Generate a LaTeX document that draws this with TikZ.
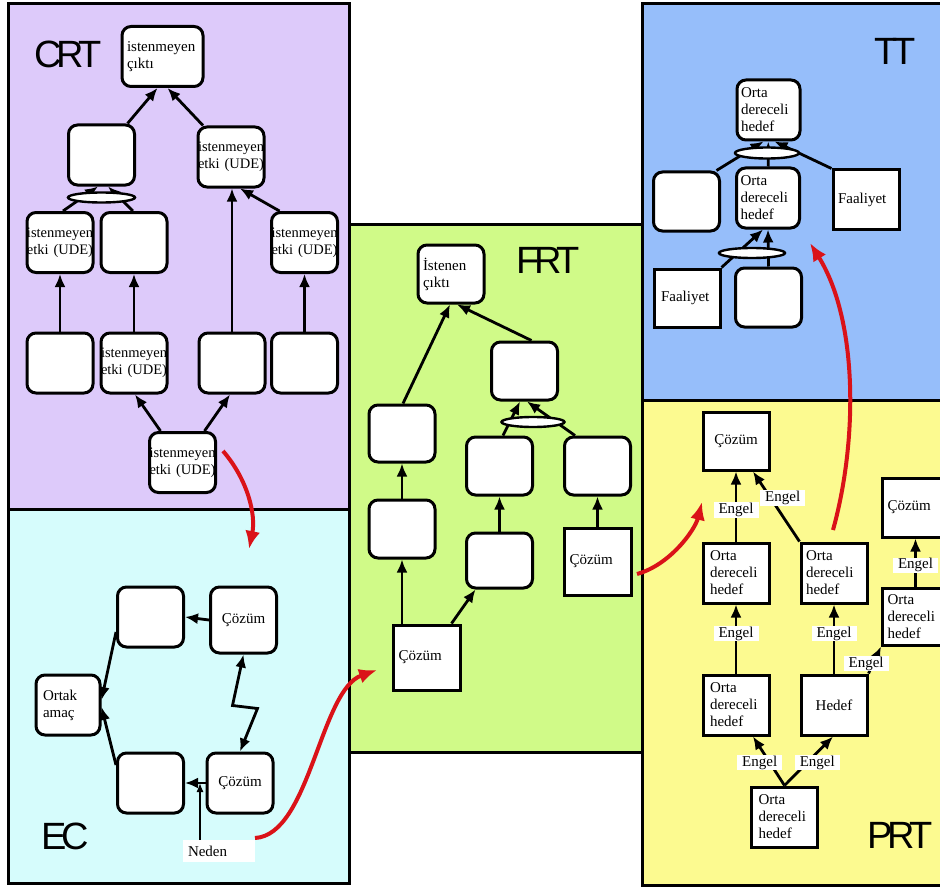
\documentclass[tikz,border=0pt]{standalone}
\usepackage{fontspec}
\setmainfont{Liberation Serif}
\newfontfamily\titlefont{Liberation Sans}[LetterSpace=-13]
\usetikzlibrary{shapes.geometric,arrows.meta}
\definecolor{crtbg}{RGB}{221,202,250}
\definecolor{ecbg}{RGB}{214,252,252}
\definecolor{frtbg}{RGB}{208,250,136}
\definecolor{ttbg}{RGB}{150,190,250}
\definecolor{prtbg}{RGB}{252,250,144}
\definecolor{hopred}{RGB}{218,18,24}
\newcommand\cellfont{\fontsize{15}{17}\selectfont}
\newcommand\udefont{\fontsize{14.5}{17}\selectfont}
\tikzset{
  cell/.style={draw,fill=white,line width=3pt,minimum width=66pt,minimum height=60pt,
    inner xsep=5pt,inner ysep=0pt,text width=56pt,align=left,font=\cellfont},
  rbox/.style={cell,rounded corners=9pt},
  sbox/.style={cell},
  udebox/.style={rbox,inner xsep=0pt,text width=66pt,font=\udefont},
  andbar/.style={draw,fill=white,ellipse,line width=2.4pt,inner sep=0pt,minimum width=64pt,minimum height=10pt},
  link/.style={-{Latex[length=13pt,width=11pt]},line width=2.8pt},
  engel/.style={fill=white,inner xsep=5pt,inner ysep=1pt,font=\cellfont},
  hop/.style={-{Latex[length=18pt,width=15pt]},hopred,line width=4pt},
  paneltitle/.style={font=\titlefont\fontsize{38}{38}\selectfont},
  panel/.style={draw,line width=3pt}
}
\begin{document}
\begin{tikzpicture}[x=1pt,y=-1pt]
\useasboundingbox (0,0) rectangle (940,888);
\clip (0,0) rectangle (940,888);
\draw[panel,fill=crtbg] (8.5,3.5) rectangle (349.5,509.5);
\draw[panel,fill=ecbg] (8.5,509.5) rectangle (349.5,883);
\draw[panel,fill=frtbg] (349.5,224) rectangle (642.5,752);
\draw[panel,fill=ttbg] (642.5,3.5) rectangle (946,400.5);
\draw[panel,fill=prtbg] (642.5,400.5) rectangle (946,885);
\node[paneltitle] (tcrt) at (68,54) {CRT};
\node[paneltitle] (tec) at (65,836) {EC};
\node[paneltitle] (tfrt) at (548,260) {FRT};
\node[paneltitle] (ttt) at (895,51) {TT};
\node[paneltitle] (tprt) at (900,835) {PRT};
% CRT
\node[rbox,minimum width=81pt,text width=71pt] (c1) at (162.5,56.5) {istenmeyen\\çıktı};
\node[rbox] (c2) at (101.5,155) {};
\node[udebox] (c3) at (231,157) {istenmeyen\\etki~(UDE)};
\node[udebox] (c4) at (60,242.5) {istenmeyen\\etki~(UDE)};
\node[rbox] (c5) at (134,242.5) {};
\node[udebox] (c6) at (304.5,242.5) {istenmeyen\\etki~(UDE)};
\node[rbox] (c7) at (60,363) {};
\node[udebox] (c8) at (134,363) {istenmeyen\\etki~(UDE)};
\node[rbox] (c9) at (232,363) {};
\node[rbox] (c10) at (304.5,363) {};
\node[udebox] (c11) at (182.5,462.5) {istenmeyen\\etki~(UDE)};
\draw[link] ([xshift=26pt]c2.north)--([xshift=-5pt]c1.south);
\draw[link] ([xshift=-28pt]c3.north)--([xshift=5pt]c1.south);
\draw[link] ([xshift=3pt]c4.north)--([xshift=-3.5pt]c2.south);
\draw[link] ([xshift=-1pt]c5.north)--([xshift=6.5pt]c2.south);
\draw[link] (c9.north)--([xshift=1pt]c3.south);
\draw[link] ([xshift=-25pt]c6.north)--([xshift=9pt]c3.south);
\draw[link] (c7)--(c4);
\draw[link] (c8)--(c5);
\draw[link] (c10)--(c6);
\draw[link] ([xshift=-22pt]c11.north)--([xshift=1pt]c8.south);
\draw[link] ([xshift=22pt]c11.north)--([xshift=-2pt]c9.south);
\node[andbar,minimum width=67pt] (cand) at (101.5,197.5) {};
% EC
\node[rbox,minimum width=64pt,text width=50pt] (e1) at (68,705) {Ortak\\amaç};
\node[rbox] (e2) at (150.5,617) {};
\node[rbox,align=center,minimum height=66pt] (e3) at (243.5,620) {Çözüm};
\node[rbox] (e4) at (150.5,783) {};
\node[rbox,align=center] (e5) at (240,783) {Çözüm};
\node[fill=white,minimum width=72pt,minimum height=22pt,inner xsep=5pt,text width=62pt,align=left,font=\cellfont] (neden) at (219,851) {Neden};
\draw[link] (e3.west)--(e2.east);
\draw[link] (e5.west)--(e4.east);
\draw[link] ([yshift=-15pt]e2.west)--([yshift=5pt]e1.east);
\draw[link] ([yshift=18pt]e4.west)--([yshift=-2pt]e1.east);
\draw[{Latex[length=13pt,width=11pt]}-{Latex[length=13pt,width=11pt]},line width=2.8pt] (e3.south)--++(-11,51)--++(25,3)--(e5.north);
\coordinate (nd) at ([xshift=-19pt]neden.north);
\draw[-{Latex[length=9pt,width=7pt]},line width=1.3pt] (nd)--(nd |- e4.east);
% FRT
\node[rbox,minimum height=58pt] (f1) at (451,274) {İstenen\\çıktı};
\node[rbox,minimum height=58pt] (f2) at (524.5,371) {};
\node[rbox,minimum height=57pt] (f3) at (402,433.5) {};
\node[rbox,minimum height=58pt] (f4) at (402,529) {};
\node[sbox,minimum width=67pt,minimum height=65pt] (f5) at (426.5,657.5) {Çözüm};
\node[rbox,minimum height=58pt] (f6) at (499.5,466) {};
\node[rbox,minimum height=55pt] (f7) at (499.5,560.5) {};
\node[rbox,minimum height=58pt] (f8) at (597.5,466) {};
\node[sbox,minimum width=67pt,minimum height=67pt] (f9) at (597.5,561.5) {Çözüm};
\draw[link] ([xshift=1pt]f3.north)--([xshift=-1pt]f1.south);
\draw[link] ([xshift=7pt]f2.north)--([xshift=6pt]f1.south);
\draw[link] (f4)--(f3);
\draw[link] (f4.south |- f5.north)--(f4.south);
\draw[link] ([xshift=25pt]f5.north)--([xshift=-24pt]f7.south);
\draw[link] (f7)--(f6);
\draw[link] (f9)--(f8);
\draw[link] ([xshift=3.5pt]f6.north)--([xshift=-4.5pt]f2.south);
\draw[link] ([xshift=-22.5pt]f8.north)--([xshift=2.5pt]f2.south);
\node[andbar,minimum width=63pt] (fand) at (533,422) {};
% TT
\node[rbox,minimum width=63pt,text width=55pt,inner xsep=4pt] (t1) at (768.5,110) {Orta\\dereceli\\hedef};
\node[rbox,minimum height=59pt] (t2) at (686.5,201.5) {};
\node[rbox,minimum width=63pt,text width=55pt,inner xsep=4pt] (t3) at (768,198) {Orta\\dereceli\\hedef};
\node[sbox,minimum height=59pt] (t4) at (866,199.5) {Faaliyet};
\node[sbox,minimum height=58pt,inner xsep=7pt,text width=52pt] (t5) at (687,298) {Faaliyet};
\node[rbox,minimum width=63pt,minimum height=59pt] (t6) at (768.5,297.5) {};
\draw[link] ([xshift=30pt]t2.north)--([xshift=-5pt]t1.south);
\draw[link] (t3)--(t1);
\draw[link] (t4.north west)--([xshift=6pt]t1.south);
\draw[link] (t5.north east)--([xshift=-5pt]t3.south);
\draw[link] (t6.north)--(t3.south);
\node[andbar,minimum height=11pt] (tand1) at (767,153) {};
\node[andbar,minimum width=66pt] (tand2) at (752,253) {};
% PRT
\node[sbox,align=center,minimum height=58pt] (p1) at (736,441) {Çözüm};
\node[sbox,minimum height=59pt] (p2) at (915.5,507.5) {Çözüm};
\node[sbox,inner xsep=7pt,text width=52pt] (p3) at (736,573) {Orta\\dereceli\\hedef};
\node[sbox] (p4) at (834,573) {Orta\\dereceli\\hedef};
\node[sbox,minimum height=57pt] (p5) at (915.5,616.5) {Orta\\dereceli\\hedef};
\node[sbox,inner xsep=7pt,text width=52pt] (p6) at (736,705) {Orta\\dereceli\\hedef};
\node[sbox,align=center] (p7) at (834,705) {Hedef};
\node[sbox,inner xsep=7pt,text width=52pt] (p8) at (784.5,817) {Orta\\dereceli\\hedef};
\draw[link] (p3)--(p1) node[engel,pos=.45]{Engel};
\draw[link] (p4.north west)--([xshift=17pt]p1.south) node[engel,pos=.62,xshift=12pt]{Engel};
\draw[link] (p5)--(p2) node[engel,pos=.44]{Engel};
\draw[link] (p6)--(p3) node[engel,pos=.58]{Engel};
\draw[link] (p7)--(p4) node[engel,pos=.58]{Engel};
\draw[link] (p7.north east)--(p5.south west) node[engel,pos=.37,xshift=-7pt]{Engel};
\draw[link] (p8.north)--([xshift=17pt]p6.south) node[engel,pos=.47,xshift=-10pt]{Engel};
\draw[link] (p8.north)--([xshift=-1pt]p7.south) node[engel,pos=.47,xshift=10pt]{Engel};
% red hops between panels
\coordinate (r1a) at (223,451);
\coordinate (r1b) at (249,549);
\coordinate (r2a) at (255,838);
\coordinate (r2b) at (377,670);
\coordinate (r3a) at (637,574);
\coordinate (r3b) at (702,502);
\coordinate (r4a) at (833,530);
\coordinate (r4b) at (810,243);
\draw[hop] (r1a) .. controls (248,480) and (256,515) .. (r1b);
\draw[hop] (r2a) .. controls (310,835) and (320,690) .. (r2b);
\draw[hop] (r3a) .. controls (670,565) and (695,530) .. (r3b);
\draw[hop] (r4a) .. controls (858,440) and (858,320) .. (r4b);
\end{tikzpicture}
\end{document}
